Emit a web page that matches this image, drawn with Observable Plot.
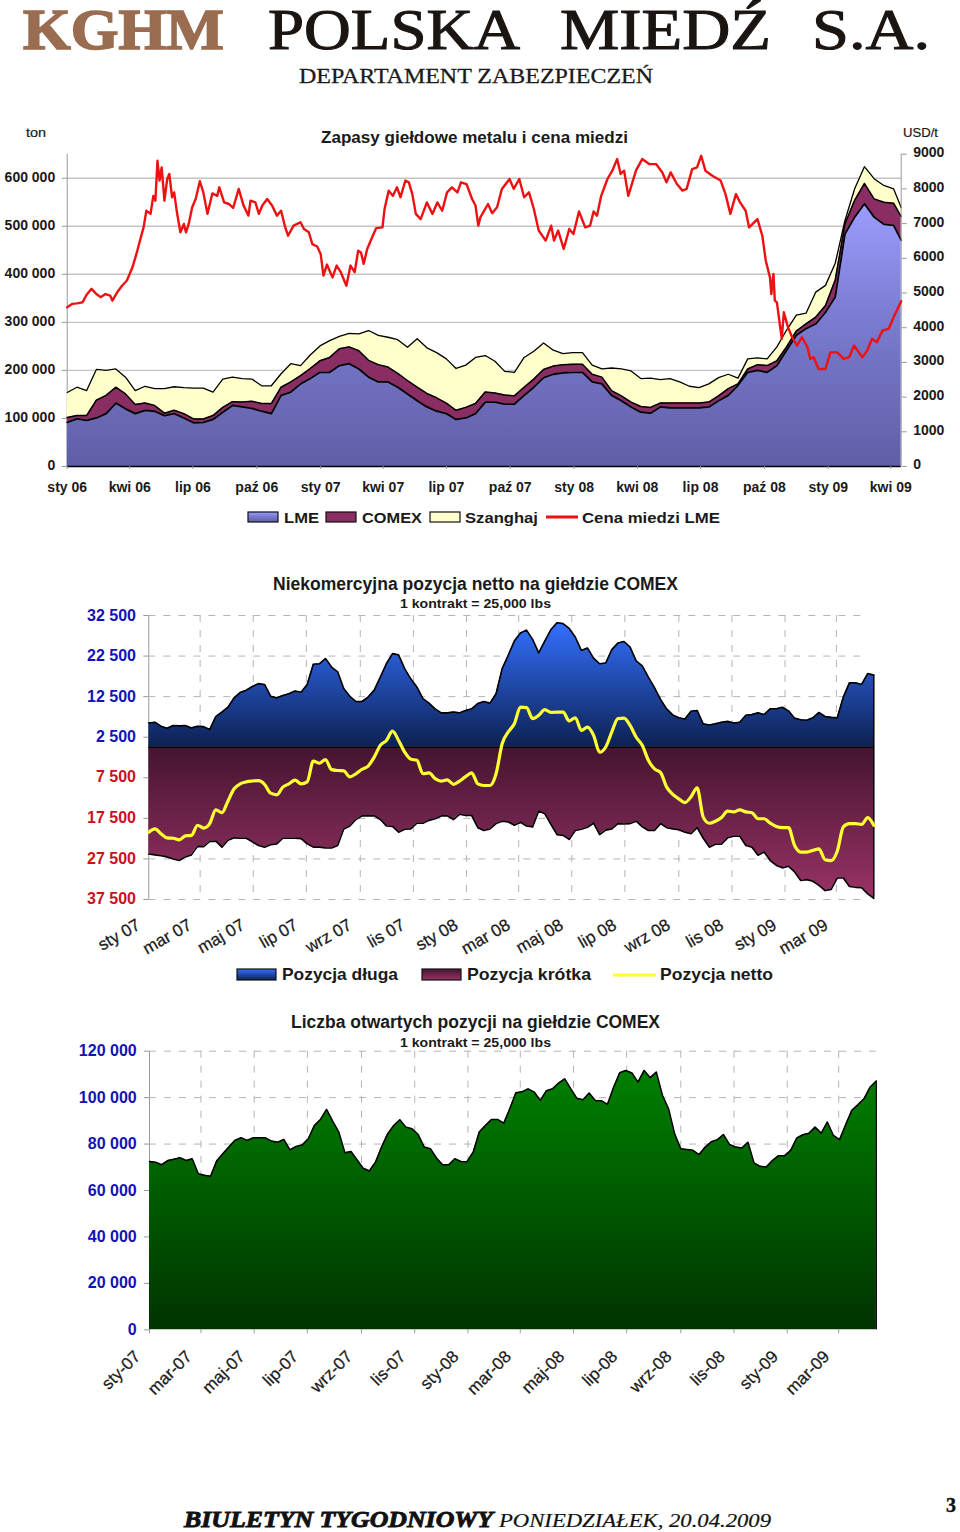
<!DOCTYPE html>
<html lang="pl">
<head>
<meta charset="utf-8">
<script src="https://cdn.jsdelivr.net/npm/d3@7"></script>
<script src="https://cdn.jsdelivr.net/npm/@observablehq/plot@0.6"></script>
<style>
html,body{margin:0;padding:0;background:#fff;}
body{position:relative;width:960px;height:1532px;overflow:hidden;}
.ch{position:absolute;left:0;}
.ch svg{display:block;background:transparent;}
#over{position:absolute;left:0;top:0;pointer-events:none;}
</style>
</head>
<body>
<script>
// ---- stocks chart: sampled every 14 days from 1 Jan 2006, thousand tonnes
const stockDays = d3.range(0,1191,14).concat([1201]);
const lmeStock = [92,99,96,101,110,132,120,110,117,115,106,110,101,91,92,98,113,127,124,121,115,110,148,155,172,183,196,196,210,214,203,186,176,176,165,151,137,124,115,110,98,101,110,134,134,130,130,148,165,185,192,195,196,196,176,172,148,137,124,113,111,124,122,122,122,122,124,137,148,169,196,200,196,210,242,273,287,297,321,353,484,519,547,519,504,502,471];
const comexStock = [10,7,10,37,38,33,31,19,15,12,5,7,9,8,7,8,10,8,10,15,16,21,17,21,17,21,24,31,35,35,38,35,36,31,29,28,28,28,28,22,19,22,21,21,19,19,17,17,17,17,17,17,17,17,16,14,10,10,10,12,12,8,10,10,10,10,10,10,14,3,7,12,14,10,7,9,10,14,14,35,21,35,42,38,46,46,49];
const shanghaiStock = [52,59,52,64,52,38,35,29,35,35,51,49,54,64,64,49,59,51,49,46,37,37,28,38,21,28,31,35,26,28,35,62,61,62,70,69,101,95,94,92,87,88,96,76,66,49,49,62,58,55,33,23,24,24,19,17,47,56,65,58,61,49,51,44,35,32,38,38,30,12,21,14,14,29,35,33,22,52,42,35,7,24,35,42,35,30,19];
// ---- LME copper price, USD/t, day offset from 1 Jan 2006
const priceDays = [0,7,14,22,28,35,42,48,55,62,65,72,79,86,94,101,106,110,114,120,124,127,130,133,136,140,144,147,151,154,158,163,168,171,175,180,185,191,196,202,209,216,219,226,233,239,247,254,261,264,271,276,281,288,295,302,308,314,318,326,336,341,348,353,360,365,369,374,382,388,394,402,408,414,419,423,427,432,439,445,454,457,463,469,475,480,487,492,497,502,509,518,526,533,540,547,554,562,567,575,583,588,592,595,606,612,619,626,637,643,651,658,665,672,679,689,697,701,707,715,723,729,737,746,753,758,763,769,778,785,792,797,802,808,819,828,838,848,857,863,869,878,886,892,900,907,913,919,929,941,948,955,963,969,977,982,994,1001,1006,1012,1014,1017,1019,1022,1029,1032,1038,1044,1051,1058,1066,1070,1075,1082,1092,1099,1109,1118,1126,1133,1145,1152,1159,1166,1174,1183,1190,1201];
const priceUsd = [4590,4685,4700,4730,4950,5120,4970,4880,4970,4925,4780,5020,5210,5360,5740,6220,6600,6890,7370,7280,7800,7660,8810,8240,8620,7660,8285,8430,7760,7900,7325,6750,6990,6750,6990,7470,7710,8220,7900,7280,7870,7800,8045,7610,7565,7450,8000,7520,7230,7660,7610,7280,7520,7710,7520,7230,7370,6890,6650,6940,7040,6845,6750,6410,6340,6125,5500,5820,5450,5790,5600,5210,5790,5600,6220,6170,5840,6270,6600,6870,6890,7420,7950,7800,8045,7760,8240,8190,7850,7280,7130,7610,7280,7610,7370,7900,8045,7900,8190,8140,7710,7520,6940,7180,7565,7300,7470,8000,8285,8000,8285,7760,7900,7420,6800,6510,6940,6510,6800,6270,6845,6700,7350,6890,6940,7350,7230,7800,8285,8525,8860,8430,8525,7800,8525,8860,8715,8715,8475,8190,8475,8140,7950,8000,8570,8620,8955,8525,8380,8240,7850,7280,7850,7610,7370,6890,7130,6650,5930,5450,4970,5550,4780,4730,3680,4445,4010,3725,3485,3725,3440,3100,3150,2810,2810,3290,3290,3100,3150,3485,3150,3340,3680,3580,3920,3965,4300,4760];
const stockTicks = [0,100,200,300,400,500,600];
const priceTicks = [0,1000,2000,3000,4000,5000,6000,7000,8000,9000];
const quarterDates = [[2006,0],[2006,3],[2006,6],[2006,9],[2007,0],[2007,3],[2007,6],[2007,9],[2008,0],[2008,3],[2008,6],[2008,9],[2009,0],[2009,3]];
const quarterLabels = ["sty 06","kwi 06","lip 06","paź 06","sty 07","kwi 07","lip 07","paź 07","sty 08","kwi 08","lip 08","paź 08","sty 09","kwi 09"];
// ---- COMEX weekly from 1 Jan 2007, contracts
const longPos = [6000,6200,5200,4700,5400,5300,5400,4800,5200,5100,4400,7600,8700,9900,12200,13500,14100,15000,15700,15500,12600,12200,12800,13200,13900,13600,15500,20500,20600,21900,19800,18600,14500,12600,11300,11300,12400,14100,17300,20600,23100,22800,19400,16900,14900,12000,10900,9500,8500,8500,8700,8500,9100,9500,10800,11300,10900,13200,19400,22700,26200,28200,28900,26600,23300,26200,29000,30700,30500,29300,27200,23900,24500,22000,20600,20800,24100,25700,26100,24700,21300,20100,17300,14700,11800,9500,8000,7300,7000,8900,9100,5800,5500,5800,6200,6400,6000,6200,7900,8100,8500,8100,9500,9500,9900,9000,7200,6800,6700,7300,8600,7600,7400,7300,12400,15900,15900,15500,18200,17800];
const shortPos = [26300,26500,26700,27000,27500,27900,27000,26500,24400,24500,23200,23100,24600,22900,22300,22400,22400,23300,24200,24600,24000,23800,22400,22400,22400,22500,23800,24600,24600,24800,24800,24200,20100,19400,17800,16900,16900,16900,17800,19400,19500,20900,20200,20100,18700,18700,18000,17600,16900,16900,17800,16500,16800,16800,19800,20500,20100,18800,18200,18400,19200,18500,19400,19600,15700,16400,19000,21500,21700,22700,20500,20200,19700,18700,21500,20400,20100,18800,18900,18800,18200,19600,20500,20500,18800,19800,20100,20300,20900,21300,19800,22400,24600,23900,23900,22300,21900,21900,24200,24600,26600,25800,27900,29100,29700,29300,30700,32800,32600,33000,34000,35300,35000,32200,32200,34300,34500,34600,36100,37200];
const netPos = [-20900,-20100,-21300,-22300,-22400,-22800,-21800,-21700,-19200,-19900,-18800,-15400,-16100,-13200,-10200,-9000,-8500,-8300,-8200,-9100,-11300,-11700,-9800,-9000,-8100,-9000,-8500,-3400,-3900,-3000,-5500,-5700,-5800,-7300,-6500,-5400,-4600,-2400,500,1700,4000,1700,-1200,-2900,-3200,-6500,-6300,-7700,-8300,-8000,-9100,-8300,-7200,-6300,-9000,-9400,-9400,-6500,900,3800,5800,9900,9800,7100,7900,9300,8600,8700,8700,6500,7300,4200,5000,3000,-1200,100,3800,7100,7200,5400,2500,500,-3200,-5300,-6200,-9800,-11600,-12700,-13600,-12200,-10000,-17200,-18700,-18200,-17300,-15700,-15900,-15400,-15900,-16100,-17600,-17600,-18700,-19500,-19800,-19800,-24200,-25800,-25800,-25400,-25000,-27700,-27900,-25600,-19600,-18800,-18800,-19000,-17300,-19200];
const openInterest = [72500,72200,71100,72900,73500,74100,72900,73700,67200,66600,66100,72700,75800,78700,81600,82700,81600,82700,82700,82700,81300,80800,82000,77500,79000,79600,82300,88000,90600,94900,89900,85200,76300,76800,73200,69600,68400,72200,78700,84400,88000,90500,87300,86600,84100,78700,78000,74000,71100,71100,73700,72500,72400,76500,85200,88000,90600,90600,89000,95200,102100,102500,103800,102400,98800,103000,103800,106300,108100,103800,99700,99100,102000,98800,98700,97100,104500,110700,111700,110600,106700,111700,108600,111000,101000,95200,84400,78000,77700,77300,75500,78700,81000,81900,84100,79800,78700,78300,80800,71900,70400,70100,72900,75000,75000,77300,82600,84000,84700,87300,84700,89500,83700,81900,88300,94500,96900,99500,104500,107100];
const positionTicks = [-37500,-27500,-17500,-7500,2500,12500,22500,32500];
const oiTicks = [0,20000,40000,60000,80000,100000,120000];
const monthDates = [[2007,0],[2007,2],[2007,4],[2007,6],[2007,8],[2007,10],[2008,0],[2008,2],[2008,4],[2008,6],[2008,8],[2008,10],[2009,0],[2009,2]];
const monthNames = ["sty","mar","maj","lip","wrz","lis","sty","mar","maj","lip","wrz","lis","sty","mar"];
const monthYears = ["07","07","07","07","07","07","08","08","08","08","08","08","09","09"];

// ---- tables
const D = (y,m,d=1)=>new Date(Date.UTC(y,m,d));
const start06 = D(2006,0), start07 = D(2007,0);
const off = (s,n)=>new Date(+s + n*864e5);
const stocks = stockDays.map((d,i)=>{
  const l=lmeStock[i], c=l+comexStock[i], t=c+shanghaiStock[i];
  return {date:off(start06,d), l, c, t};
});
const price = priceDays.map((d,i)=>({date:off(start06,d), usd:priceUsd[i]}));
const weekly = longPos.map((v,i)=>({date:off(start07,7*i), long:v, short:-shortPos[i], net:netPos[i], oi:openInterest[i]}));
const qDates = quarterDates.map(a=>D(a[0],a[1]));
const qMap = new Map(qDates.map((d,i)=>[+d,quarterLabels[i]]));
const mDates = monthDates.map(a=>D(a[0],a[1]));
const mMap1 = new Map(mDates.map((d,i)=>[+d,monthNames[i]+" "+monthYears[i]]));
const mMap2 = new Map(mDates.map((d,i)=>[+d,monthNames[i]+"-"+monthYears[i]]));
const sp = n => n===0 ? "0" : d3.format(",")(n).replace(/,/g," ");

const AX = "#999", GRID="#c4c4c4", DASH="#b4b4b4";
const font = "'Liberation Sans', Arial, sans-serif";
const blank = ()=>"";

function mount(plot, top){
  const d=document.createElement("div"); d.className="ch"; d.style.top=top+"px"; d.appendChild(plot); document.body.appendChild(d);
}

// ---- overlay svg with gradients, titles, legends
const NS="http://www.w3.org/2000/svg";
const over=document.createElementNS(NS,"svg");
over.setAttribute("id","over"); over.setAttribute("width",960); over.setAttribute("height",1532);
function grad(id,stops){
  const g=document.createElementNS(NS,"linearGradient");
  g.setAttribute("id",id); g.setAttribute("x1",0);g.setAttribute("x2",0);g.setAttribute("y1",0);g.setAttribute("y2",1);
  stops.forEach(([o,c])=>{const s=document.createElementNS(NS,"stop");s.setAttribute("offset",o);s.setAttribute("stop-color",c);g.appendChild(s);});
  return g;
}
const defs=document.createElementNS(NS,"defs");
defs.appendChild(grad("gLme",[[0,"#9c9cff"],[0.45,"#7a7ad0"],[1,"#5f5fa6"]]));
defs.appendChild(grad("gComex",[[0,"#993366"],[1,"#7a2a5c"]]));
defs.appendChild(grad("gLong",[[0,"#3370ff"],[1,"#0d2152"]]));
defs.appendChild(grad("gShort",[[0,"#451430"],[1,"#993366"]]));
defs.appendChild(grad("gOi",[[0,"#008000"],[1,"#003300"]]));
over.appendChild(defs);
function T(s,x,y,o={}){
  const t=document.createElementNS(NS,"text");
  t.textContent=s; t.setAttribute("x",x); t.setAttribute("y",y);
  t.setAttribute("font-family",o.family||font);
  t.setAttribute("font-size",o.size||14);
  t.setAttribute("font-weight",o.weight||"bold");
  if(o.style) t.setAttribute("font-style",o.style);
  const f=o.fill||"#1a1a1a";
  t.setAttribute("fill",f);
  if(o.heavy){t.setAttribute("stroke",f);t.setAttribute("stroke-width",o.heavy);}
  if(o.w){t.setAttribute("textLength",o.w);t.setAttribute("lengthAdjust","spacingAndGlyphs");}
  over.appendChild(t);
}
function R(x,y,w,h,fill){
  const r=document.createElementNS(NS,"rect");
  r.setAttribute("x",x);r.setAttribute("y",y);r.setAttribute("width",w);r.setAttribute("height",h);
  r.setAttribute("fill",fill);r.setAttribute("stroke","#111");r.setAttribute("stroke-width",1.2);over.appendChild(r);
}
function L(x1,x2,y,c){
  const l=document.createElementNS(NS,"line");
  l.setAttribute("x1",x1);l.setAttribute("x2",x2);l.setAttribute("y1",y);l.setAttribute("y2",y);
  l.setAttribute("stroke",c);l.setAttribute("stroke-width",3);over.appendChild(l);
}
const serif="'Liberation Serif','Times New Roman',serif";
T("KGHM",23,49,{family:serif,size:56,fill:"#9a6c50",w:201,heavy:1.6});
T("POLSKA",268,49,{family:serif,size:56,fill:"#1b1512",w:252,weight:"normal",heavy:1});
T("MIEDŹ",560,49,{family:serif,size:56,fill:"#1b1512",w:211,weight:"normal",heavy:1});
T("S.A.",812,49,{family:serif,size:56,fill:"#1b1512",w:118,weight:"normal",heavy:1});
T("DEPARTAMENT ZABEZPIECZEŃ",299,83,{family:serif,size:22,weight:"normal",w:354,heavy:0.3});
T("ton",26,137,{size:13,weight:"normal",w:20,heavy:0.2});
T("USD/t",903,137,{size:13,weight:"normal",w:35,heavy:0.2});
T("Zapasy giełdowe metalu i cena miedzi",321,143,{size:17,w:307});
R(248,512,30,10,"url(#gLme)"); T("LME",284,522.5,{size:15.5,w:35});
R(326,512,30,10,"#8a2d63"); T("COMEX",362,522.5,{size:15.5,w:60});
R(430,512,30,10,"#ffffcc"); T("Szanghaj",465,522.5,{size:15.5,w:73});
L(546,578,517,"#ee1111"); T("Cena miedzi LME",582,522.5,{size:15.5,w:138});
T("Niekomercyjna pozycja netto na giełdzie COMEX",273,590,{size:17.5,w:405});
T("1 kontrakt = 25,000 lbs",400,608,{size:12.5,w:151});
R(237,969,39,11,"url(#gLong)"); T("Pozycja długa",282,980,{size:17,w:116});
R(422,969,39,11,"url(#gShort)"); T("Pozycja krótka",467,980,{size:17,w:124});
L(613,656,975,"#ffff33"); T("Pozycja netto",660,980,{size:17,w:113});
T("Liczba otwartych pozycji na giełdzie COMEX",291,1028,{size:17.5,w:369});
T("1 kontrakt = 25,000 lbs",400,1047,{size:12.5,w:151});
T("BIULETYN TYGODNIOWY",184,1527,{family:serif,size:24,style:"italic",fill:"#111",w:309,heavy:0.9});
T("PONIEDZIAŁEK, 20.04.2009",499,1527,{family:serif,size:19,style:"italic",weight:"normal",fill:"#111",w:272,heavy:0.2});
T("3",946,1512,{family:serif,size:20,fill:"#111",heavy:0.4});
document.body.appendChild(over);

const base = (w)=>({width:960, style:{fontFamily:font, background:"transparent", overflow:"visible", ...w}});
const frame1 = {height:370, marginTop:13.7, marginBottom:44, marginLeft:66.7, marginRight:59.3};

// ---- chart 1: stocks
mount(Plot.plot({
  ...base({fontSize:"14px",fontWeight:"bold",color:"#1a1a1a"}),
  ...frame1,
  x:{type:"utc",domain:[start06,off(start06,1201)]},
  y:{domain:[0,650],label:null},
  marks:[
    Plot.ruleY(stockTicks.filter(d=>d>0),{y:d=>d,stroke:GRID,strokeWidth:1.4}),
    Plot.ruleX([start06],{x:d=>d,stroke:AX,strokeWidth:1}),
    Plot.areaY(stocks,{x:"date",y1:d=>d.c,y2:"t",fill:"#ffffcc"}),
    Plot.areaY(stocks,{x:"date",y1:"l",y2:"c",fill:"#8a2d63"}),
    Plot.areaY(stocks,{x:"date",y1:0,y2:"l",fill:"url(#gLme)"}),
    Plot.lineY(stocks,{x:"date",y:"t",stroke:"#000",strokeWidth:1.3}),
    Plot.lineY(stocks,{x:"date",y:"c",stroke:"#000",strokeWidth:1.5}),
    Plot.lineY(stocks,{x:"date",y:"l",stroke:"#000",strokeWidth:1.8}),
    Plot.ruleY([0],{stroke:"#000",strokeWidth:1.5}),
    Plot.axisY(stockTicks,{anchor:"left",tickSize:5,stroke:AX,tickFormat:blank,label:null}),
    Plot.axisY(stockTicks,{anchor:"left",tickSize:0,tickPadding:12,dy:-1,fill:"#1a1a1a",tickFormat:d=>d===0?"0":d+" 000",label:null}),
    Plot.axisX(qDates,{anchor:"bottom",tickSize:3,stroke:AX,tickFormat:blank,label:null}),
    Plot.axisX(qDates,{anchor:"bottom",tickSize:0,tickPadding:16,fill:"#1a1a1a",tickFormat:d=>qMap.get(+d),label:null})
  ]
}),140);

// ---- chart 1 overlay: price on the right axis
mount(Plot.plot({
  ...base({fontSize:"14px",fontWeight:"bold",color:"#1a1a1a"}),
  ...frame1,
  x:{type:"utc",domain:[start06,off(start06,1201)],axis:null},
  y:{domain:[0,9000],label:null},
  marks:[
    Plot.ruleX([off(start06,1201)],{x:d=>d,stroke:AX,strokeWidth:1}),
    Plot.lineY(price,{x:"date",y:"usd",stroke:"#ee1111",strokeWidth:2.4}),
    Plot.axisY(priceTicks,{anchor:"right",tickSize:5,stroke:AX,tickFormat:blank,label:null}),
    Plot.axisY(priceTicks,{anchor:"right",tickSize:0,tickPadding:12,dy:-1.5,fill:"#1a1a1a",tickFormat:d=>String(d),label:null})
  ]
}),140);

// ---- chart 2: non-commercial positions
const dash={stroke:DASH,strokeWidth:1,strokeDasharray:"7 8"};
mount(Plot.plot({
  ...base({fontSize:"16px",fontWeight:"bold"}),
  height:360, marginTop:15, marginBottom:61, marginLeft:148.3, marginRight:86.7,
  x:{type:"utc",domain:[start07,off(start07,833)]},
  y:{domain:[-37500,32500],label:null},
  marks:[
    Plot.ruleX([start07],{x:d=>d,stroke:AX,strokeWidth:1}),
    Plot.ruleY(positionTicks,{y:d=>d,x1:start07,x2:off(start07,825),...dash}),
    Plot.ruleX(mDates.slice(1),{x:d=>d,...dash}),
    Plot.areaY(weekly,{x:"date",y1:0,y2:"long",fill:"url(#gLong)"}),
    Plot.areaY(weekly,{x:"date",y1:0,y2:"short",fill:"url(#gShort)"}),
    Plot.lineY(weekly,{x:"date",y:"long",stroke:"#000",strokeWidth:1.6}),
    Plot.lineY(weekly,{x:"date",y:"short",stroke:"#000",strokeWidth:1.6}),
    Plot.ruleX(weekly.slice(-1),{x:"date",y1:"short",y2:"long",stroke:"#000",strokeWidth:1.5}),
    Plot.ruleY([0],{stroke:"#000",strokeWidth:1.5}),
    Plot.lineY(weekly,{x:"date",y:"net",stroke:"#ffff33",strokeWidth:3.2,curve:"monotone-x"}),
    Plot.axisY(positionTicks,{anchor:"left",tickSize:5,stroke:AX,tickFormat:blank,label:null}),
    Plot.axisY(positionTicks.filter(d=>d>0),{anchor:"left",tickSize:0,tickPadding:12,dx:-0.8,fill:"#1212b8",tickFormat:sp,label:null}),
    Plot.axisY(positionTicks.filter(d=>d<0),{anchor:"left",tickSize:0,tickPadding:12,dx:-0.8,dy:-0.5,fill:"#cc1020",tickFormat:d=>sp(-d),label:null}),
    Plot.axisX(mDates,{anchor:"bottom",tickSize:0,tickPadding:24,tickRotate:-30,dx:-10,fill:"#1a1a1a",fontSize:17,fontWeight:"normal",textStroke:"#1a1a1a",textStrokeWidth:0.25,tickFormat:d=>mMap1.get(+d),label:null})
  ]
}),600);

// ---- chart 3: open interest
mount(Plot.plot({
  ...base({fontSize:"16px",fontWeight:"bold"}),
  height:380, marginTop:15.7, marginBottom:85.7, marginLeft:149, marginRight:84.3,
  x:{type:"utc",domain:[start07,off(start07,833)]},
  y:{domain:[0,120000],label:null},
  marks:[
    Plot.ruleX([start07],{x:d=>d,stroke:AX,strokeWidth:1}),
    Plot.ruleY(oiTicks.filter(d=>d>0),{y:d=>d,...dash}),
    Plot.ruleX(mDates.slice(1),{x:d=>d,...dash}),
    Plot.areaY(weekly,{x:"date",y1:0,y2:"oi",fill:"url(#gOi)"}),
    Plot.lineY(weekly,{x:"date",y:"oi",stroke:"#000",strokeWidth:1.5}),
    Plot.ruleX(weekly.slice(-1),{x:"date",y1:0,y2:"oi",stroke:"#000",strokeWidth:1.5}),
    Plot.axisY(oiTicks,{anchor:"left",tickSize:5,stroke:AX,tickFormat:blank,label:null}),
    Plot.axisY(oiTicks,{anchor:"left",tickSize:0,tickPadding:12,dx:-0.8,fill:"#1212b8",tickFormat:sp,label:null}),
    Plot.axisX(mDates,{anchor:"bottom",tickSize:4,stroke:AX,tickFormat:blank,label:null}),
    Plot.axisX(mDates,{anchor:"bottom",tickSize:0,tickPadding:24,tickRotate:-45,dx:-12,fill:"#1a1a1a",fontSize:17,fontWeight:"normal",textStroke:"#1a1a1a",textStrokeWidth:0.25,tickFormat:d=>mMap2.get(+d),label:null})
  ]
}),1035);
</script>
</body>
</html>
